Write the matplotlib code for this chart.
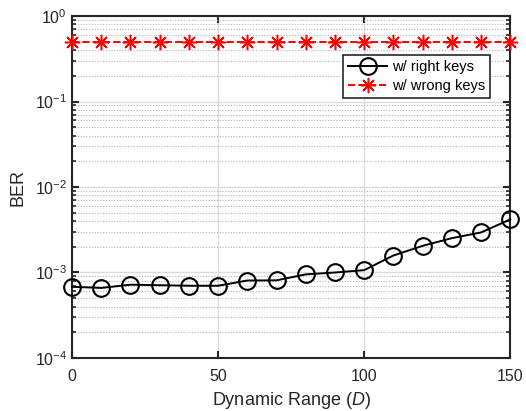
import numpy as np
import matplotlib
matplotlib.use('Agg')
import matplotlib.pyplot as plt
from matplotlib.ticker import LogLocator, NullFormatter, FixedLocator

plt.rcParams['font.family'] = ['Liberation Sans', 'DejaVu Sans']
plt.rcParams['mathtext.fontset'] = 'custom'
plt.rcParams['mathtext.rm'] = 'Liberation Sans'
plt.rcParams['mathtext.it'] = 'Liberation Sans:italic'

# data
dyn_range = [0, 10, 20, 30, 40, 50, 60, 70, 80, 90, 100, 110, 120, 130, 140, 150]
ber_right = [6.8e-4, 6.6e-4, 7.2e-4, 7.1e-4, 7.0e-4, 7.0e-4, 8.05e-4, 8.1e-4,
             9.5e-4, 1.0e-3, 1.065e-3, 1.58e-3, 2.05e-3, 2.52e-3, 2.94e-3, 4.17e-3]
ber_wrong = [0.5] * len(dyn_range)
labels = ['w/ right keys', 'w/ wrong keys']
x_ticks = [0, 50, 100, 150]

fig = plt.figure(figsize=(5.26, 4.11), dpi=100)
ax = fig.add_axes([0.137, 0.129, 0.833, 0.832])

ax.semilogy(dyn_range, ber_right, '-o', color='black', lw=1.4, ms=12,
            mfc='none', mew=1.5, label=labels[0], clip_on=False, zorder=3)
ax.semilogy(dyn_range, ber_wrong, '--', color='red', lw=1.4, ms=11,
            marker=(8, 2, 0), mew=1.1, label=labels[1], clip_on=False, zorder=3)

ax.set_xlim(0, 150)
ax.set_ylim(1e-4, 1)
ax.xaxis.set_major_locator(FixedLocator(x_ticks))
ax.yaxis.set_major_locator(LogLocator(base=10, numticks=10))
ax.yaxis.set_minor_locator(LogLocator(base=10, subs=np.arange(2, 10), numticks=20))
ax.yaxis.set_minor_formatter(NullFormatter())

ax.grid(True, which='major', color='#dcdcdc', lw=1.0, ls='-')
ax.grid(True, which='minor', axis='y', color='#b4b4b4', lw=0.8, ls=(0, (1, 1.5)))
ax.set_axisbelow(True)

for s in ax.spines.values():
    s.set_linewidth(1.5)
    s.set_color('#262626')
ax.tick_params(which='both', direction='in', top=True, right=True,
               colors='#262626', labelsize=11.5)
ax.tick_params(which='major', length=5, width=1.5)
ax.tick_params(which='minor', length=3, width=1.2)
ax.tick_params(axis='x', pad=8)

ax.set_xlabel('Dynamic Range ($D$)', fontsize=13, color='#262626', labelpad=4)
ax.set_ylabel('BER', fontsize=13, color='#262626', labelpad=6)

leg = ax.legend(loc='upper right', bbox_to_anchor=(0.954, 0.886), fontsize=10.5,
                frameon=True, fancybox=False, handlelength=2.7,
                borderpad=0.35, labelspacing=0.35, handletextpad=0.3,
                borderaxespad=0)
leg.get_frame().set_edgecolor('#262626')
leg.get_frame().set_linewidth(1.2)
leg.get_frame().set_alpha(1)

plt.savefig('out.png', dpi=100)
